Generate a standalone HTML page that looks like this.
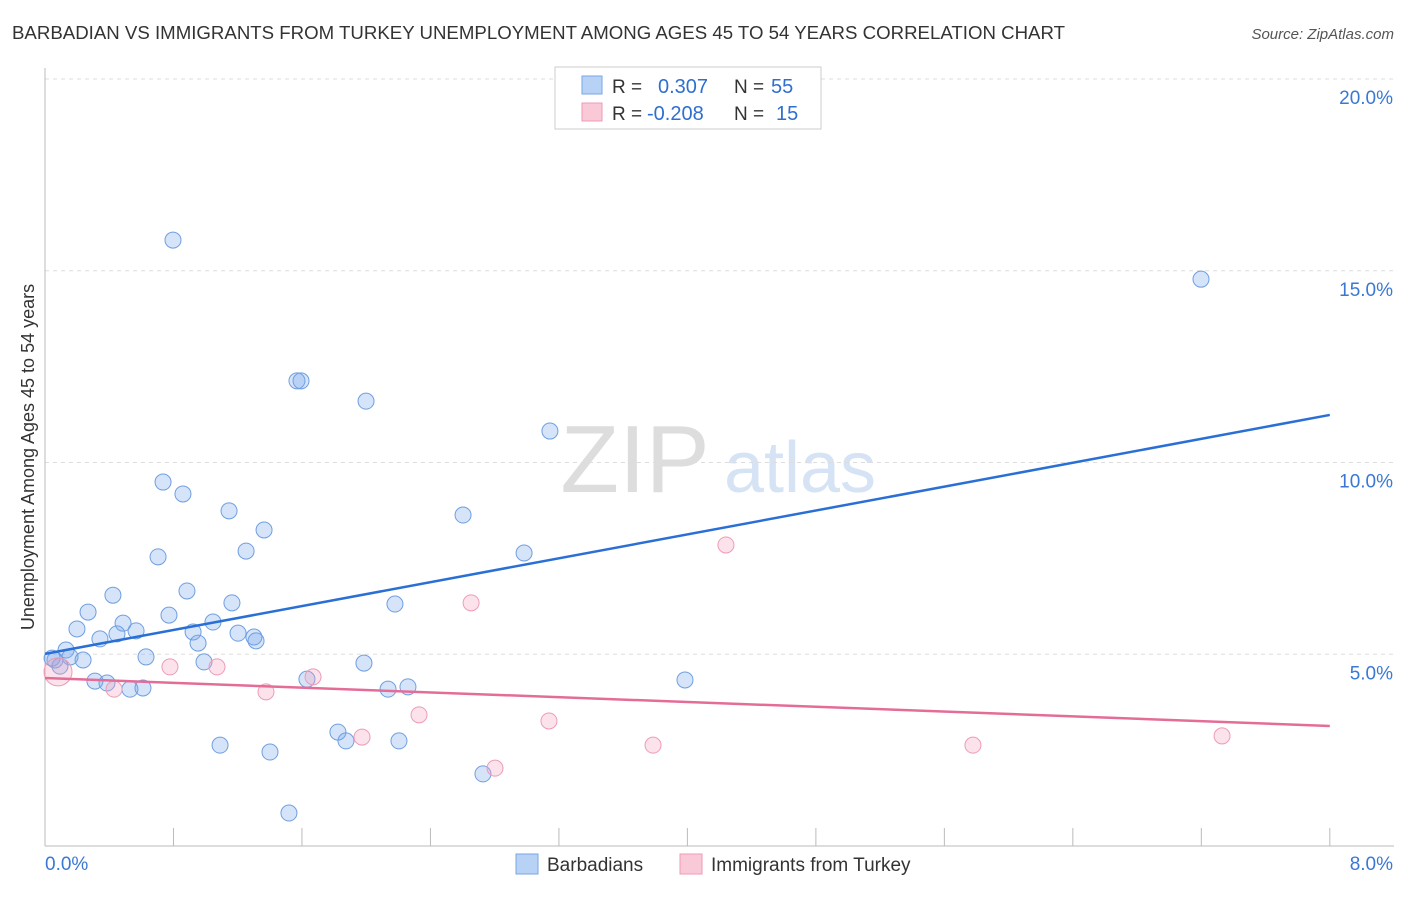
<!DOCTYPE html>
<html><head><meta charset="utf-8"><style>
body{margin:0;background:#fff;font-family:"Liberation Sans",sans-serif;}
svg text{font-family:"Liberation Sans",sans-serif;}
</style></head><body>
<svg id="c" width="1406" height="892">
<text x="12" y="39" font-size="18" fill="#333" textLength="1053" lengthAdjust="spacingAndGlyphs">BARBADIAN VS IMMIGRANTS FROM TURKEY UNEMPLOYMENT AMONG AGES 45 TO 54 YEARS CORRELATION CHART</text>
<text x="1394" y="39" font-size="15" fill="#555" font-style="italic" text-anchor="end">Source: ZipAtlas.com</text>
<text x="635" y="492" font-size="96" fill="#ddd" font-family="Liberation Serif" text-anchor="middle">ZIP</text>
<text x="800" y="492" font-size="72" fill="#d5e3f5" text-anchor="middle">atlas</text>
<text transform="translate(34,457) rotate(-90)" font-size="18" fill="#333" text-anchor="middle">Unemployment Among Ages 45 to 54 years</text>
<g id="grid"></g><g id="marks"></g>
<g>
<rect x="555" y="67" width="266" height="62" fill="#fff" stroke="#ccc"/>
<rect x="582" y="76" width="20" height="18" fill="#b8d2f5" stroke="#7aa6e6"/>
<rect x="582" y="103" width="20" height="18" fill="#f9c9d8" stroke="#ee9bb6"/>
<text x="612" y="93" font-size="19" fill="#333">R = </text><text x="658" y="93" font-size="20" fill="#2f6fd0">0.307</text>
<text x="734" y="93" font-size="19" fill="#333">N = </text><text x="771" y="93" font-size="20" fill="#2f6fd0">55</text>
<text x="612" y="120" font-size="19" fill="#333">R = </text><text x="647" y="120" font-size="20" fill="#2f6fd0">-0.208</text>
<text x="734" y="120" font-size="19" fill="#333">N = </text><text x="776" y="120" font-size="20" fill="#2f6fd0">15</text>
</g>
<g>
<rect x="516" y="854" width="22" height="20" fill="#b8d2f5" stroke="#7aa6e6"/>
<text x="547" y="871" font-size="19" fill="#333">Barbadians</text>
<rect x="680" y="854" width="22" height="20" fill="#f9c9d8" stroke="#ee9bb6"/>
<text x="711" y="871" font-size="19" fill="#333">Immigrants from Turkey</text>
</g>
</svg>
<script>
const blueX=[0.797,1.569,1.594,1.999,3.144,7.198,0.735,0.859,1.146,1.364,2.603,0.704,1.252,2.983,0.423,0.884,0.268,0.772,1.164,2.179,0.199,0.486,0.567,0.342,0.448,0.922,1.046,1.202,1.301,1.314,0.953,0.131,0.062,0.093,0.156,0.237,0.629,0.990,1.986,0.311,0.386,0.529,0.610,1.631,2.136,2.260,3.985,1.824,1.874,2.204,1.090,1.401,2.727,1.519,0.044];
const blueY=[15.80,12.13,12.13,11.60,10.82,14.78,9.49,9.18,8.74,8.24,8.63,7.54,7.69,7.64,6.54,6.65,6.10,6.02,6.34,6.31,5.66,5.81,5.61,5.40,5.53,5.58,5.84,5.55,5.45,5.35,5.29,5.11,4.85,4.69,4.93,4.85,4.93,4.80,4.77,4.30,4.25,4.09,4.12,4.35,4.09,4.15,4.33,2.97,2.74,2.74,2.63,2.45,1.88,0.86,4.90];
const pinkX=[0.081,0.778,1.071,0.430,1.376,1.669,2.653,4.240,2.329,1.974,3.138,2.802,3.786,5.778,7.329];
const pinkY=[4.54,4.67,4.67,4.09,4.02,4.41,6.34,7.85,3.42,2.84,3.26,2.03,2.63,2.63,2.87];
const pinkR=[14,8,8,8,8,8,8,8,8,8,8,8,8,8,8];
const blueTrend=[5.01,11.24];
const pinkTrend=[4.38,3.13];
const yTicks=[5,10,15,20];
const yTickLabels=["5.0%","10.0%","15.0%","20.0%"];
const xTicks=[0,0.8,1.6,2.4,3.2,4.0,4.8,5.6,6.4,7.2,8.0];
const NS="http://www.w3.org/2000/svg";
const sx=v=>45+v*160.6, sy=v=>846-v*38.35;
const grid=document.getElementById('grid'), marks=document.getElementById('marks');
function mk(tag,attrs,parent){const e=document.createElementNS(NS,tag);for(const k in attrs)e.setAttribute(k,attrs[k]);parent.appendChild(e);return e;}
yTicks.forEach((t,i)=>{
 const l=mk('line',{x1:45,x2:1394,y1:sy(t),y2:sy(t),stroke:'#ddd','stroke-dasharray':'4,4'},grid);
 
 
 const tx=mk('text',{x:1393,y:sy(t)+25,'font-size':19,fill:'#3a78d4','text-anchor':'end'},grid);
 tx.textContent=yTickLabels[i];
 
 
});
const topLine=mk('line',{x1:45,x2:1394,y1:79,y2:79,stroke:'#ddd','stroke-dasharray':'4,4'},grid);


const ax=mk('line',{x1:45,x2:45,y1:68,y2:846,stroke:'#bbb'},grid);


const bx=mk('line',{x1:45,x2:1394,y1:846,y2:846,stroke:'#bbb'},grid);


xTicks.forEach(t=>{const l=mk('line',{x1:sx(t),x2:sx(t),y1:828,y2:846,stroke:'#bbb'},grid);
 
 });
const x0=mk('text',{x:45,y:870,'font-size':19,fill:'#3a78d4'},grid);x0.textContent='0.0%';


const x1=mk('text',{x:1393,y:870,'font-size':19,fill:'#3a78d4','text-anchor':'end'},grid);x1.textContent='8.0%';


blueX.forEach((v,i)=>{const c=mk('circle',{cx:sx(v),cy:sy(blueY[i]),r:8,fill:'rgba(120,165,235,0.3)',stroke:'#6f9fe0','stroke-width':1},marks);
 
 });
pinkX.forEach((v,i)=>{const c=mk('circle',{cx:sx(v),cy:sy(pinkY[i]),r:pinkR[i],fill:'rgba(245,160,190,0.3)',stroke:'#ee9bb6','stroke-width':1},marks);
 
 });
const bl=mk('line',{x1:sx(0),y1:sy(blueTrend[0]),x2:sx(8),y2:sy(blueTrend[1]),stroke:'#2a6fd6','stroke-width':2.5},marks);


const pl=mk('line',{x1:sx(0),y1:sy(pinkTrend[0]),x2:sx(8),y2:sy(pinkTrend[1]),stroke:'#e46d98','stroke-width':2.5},marks);


</script>
</body></html>
